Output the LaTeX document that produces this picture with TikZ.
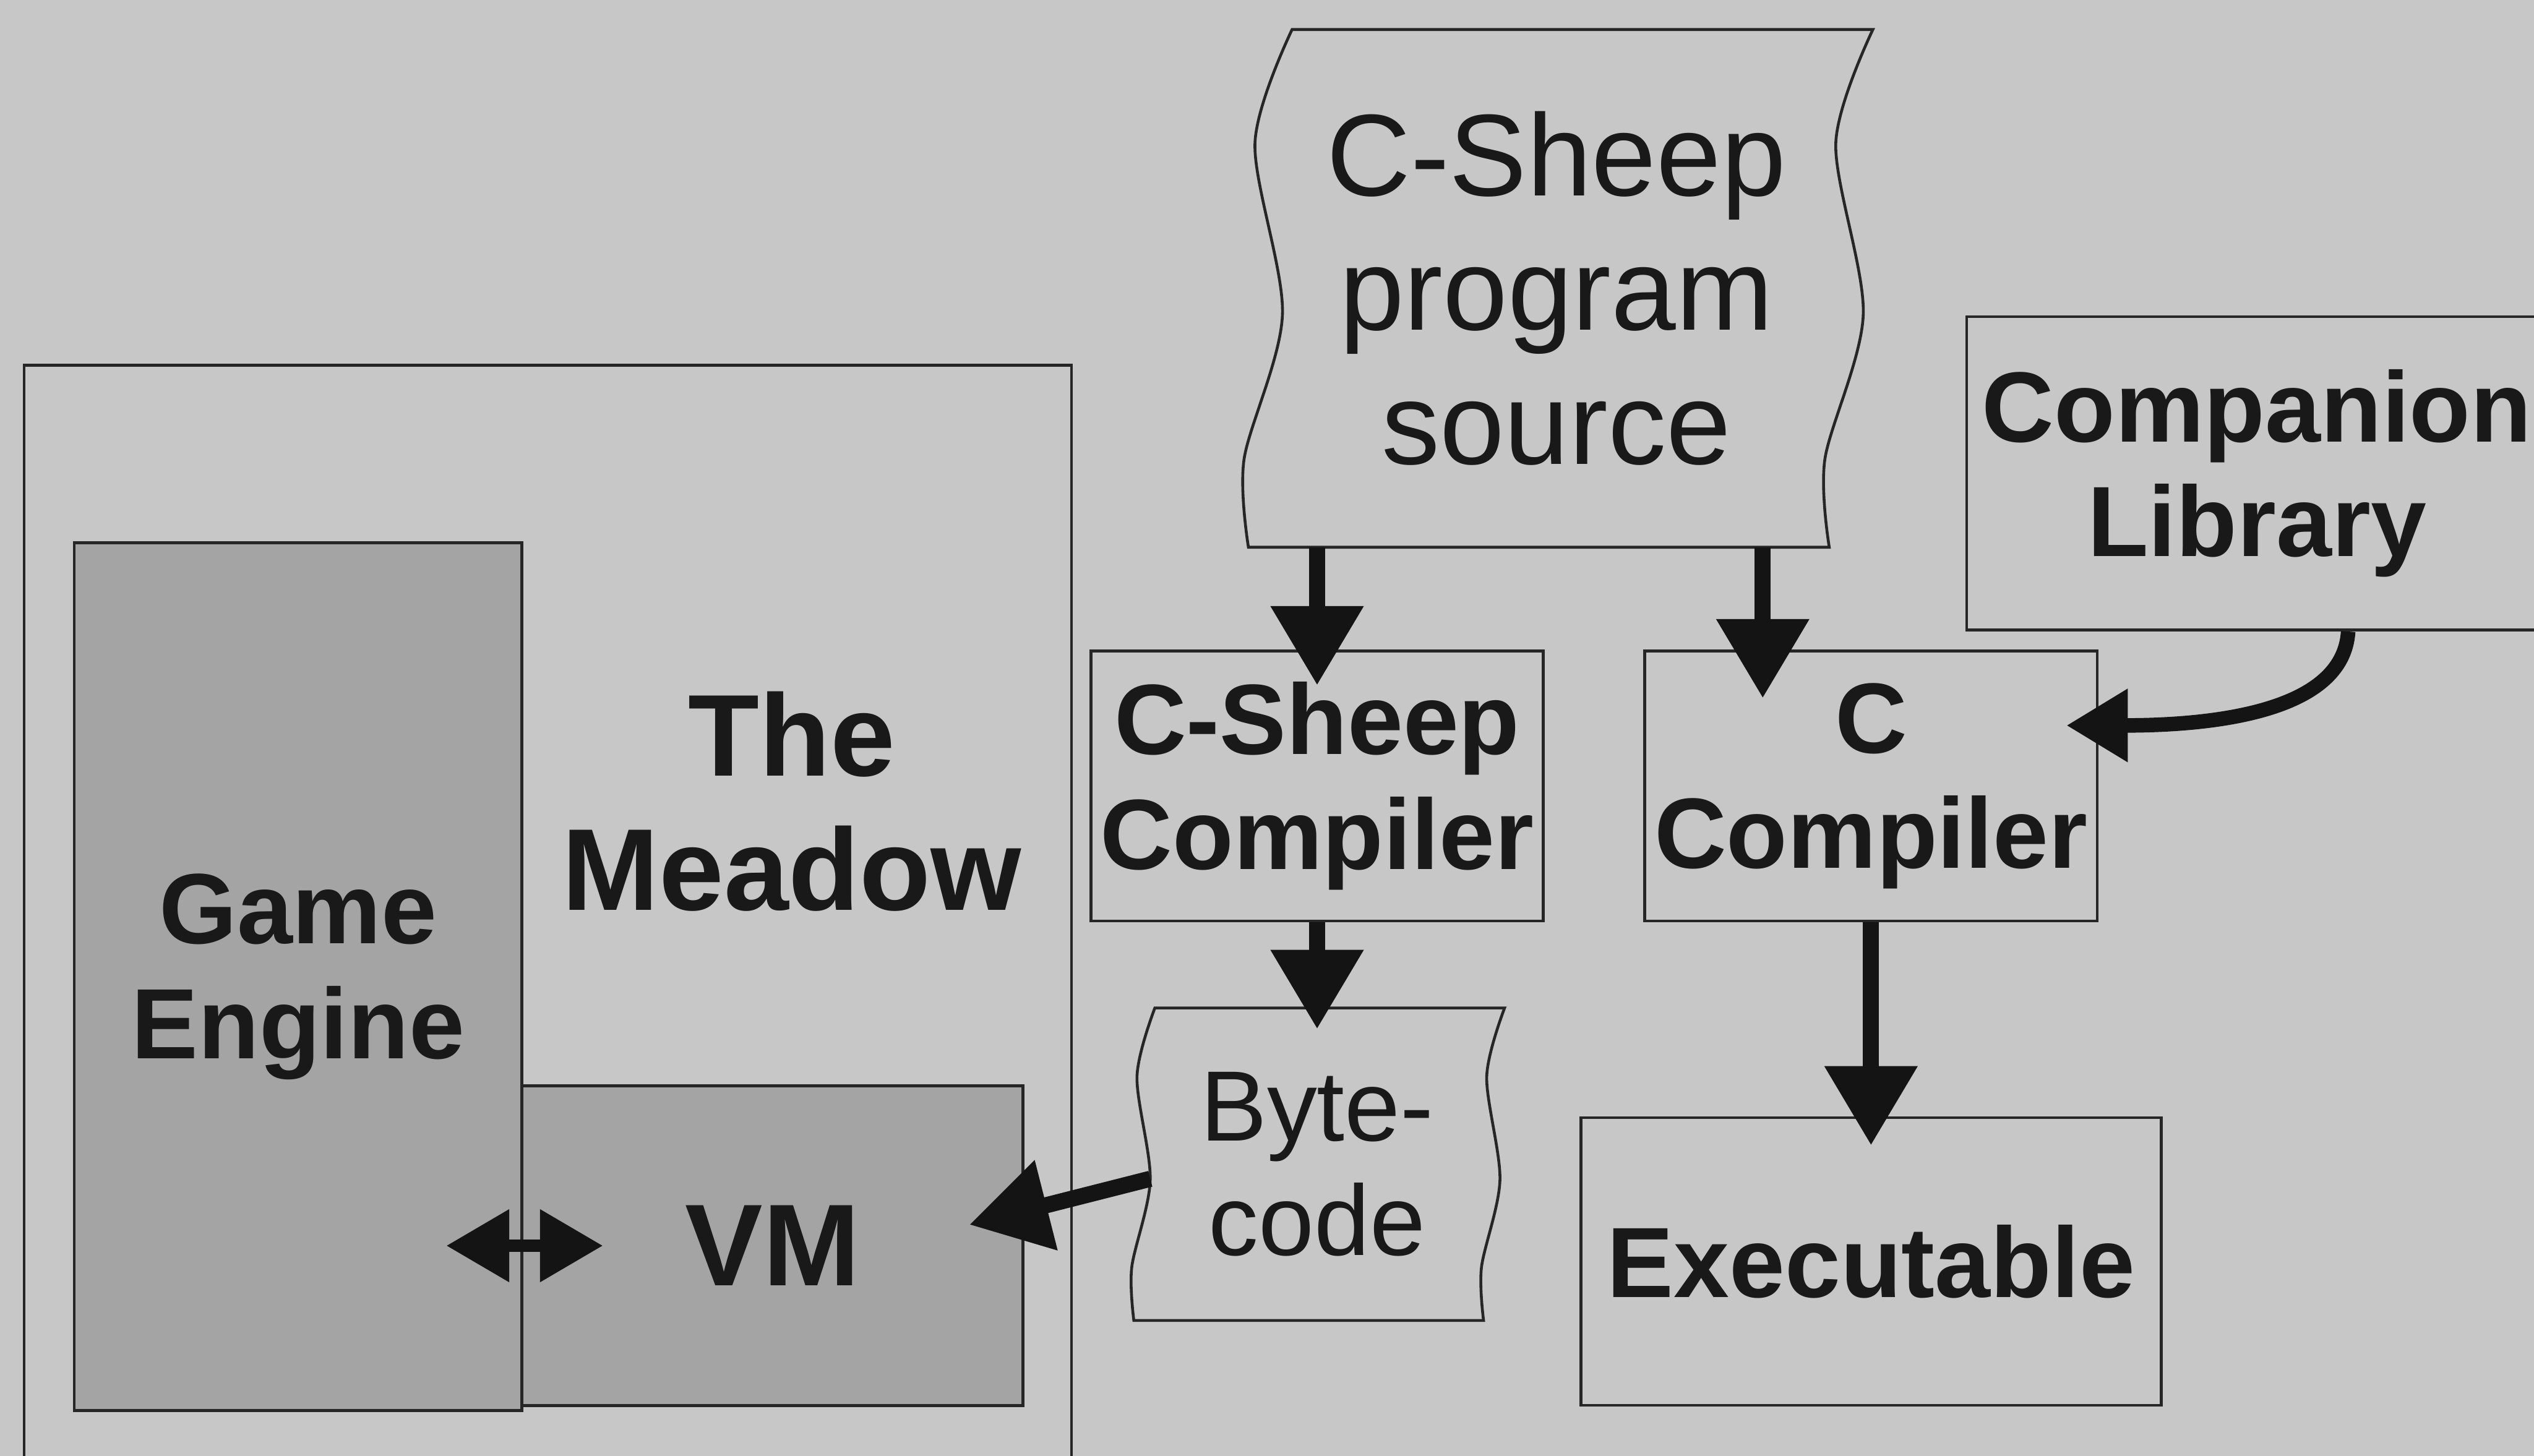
\documentclass[tikz,border=0pt]{standalone}
\usepackage{fontspec}
\setmainfont{Liberation Sans}
\usetikzlibrary{
	positioning,
	arrows.meta,
	calc}
\definecolor{paper}{RGB}{199,199,199}
\definecolor{slate}{RGB}{164,164,164}
\definecolor{ink}{RGB}{38,38,38}
\newcommand\bigtext{\fontsize{20.5}{23.6}\selectfont}
\newcommand\midtext{\fontsize{17.6}{20.2}\selectfont}
\newcommand\tape[2]{%
	\draw[tape line]
		plot[smooth] coordinates {
			($(#1.north west)+(0.6*#2,0)$)
			($(#1.north west)!.22!(#1.south west)+(-0.25*#2,0)$)
			($(#1.north west)!.55!(#1.south west)+(0.38*#2,0)$)
			($(#1.north west)!.83!(#1.south west)+(-0.5*#2,0)$)
			($(#1.south west)+(-0.4*#2,0)$)}
		-- plot[smooth] coordinates {
			($(#1.south east)+(-0.4*#2,0)$)
			($(#1.north east)!.83!(#1.south east)+(-0.5*#2,0)$)
			($(#1.north east)!.55!(#1.south east)+(0.38*#2,0)$)
			($(#1.north east)!.22!(#1.south east)+(-0.25*#2,0)$)
			($(#1.north east)+(0.6*#2,0)$)}
		-- cycle;}
\tikzset{
	meadow diagram/.style={
		x=.1mm, y=.1mm,
		text=black!90
		},
	box/.style={
		draw=ink,
		line width=.5pt,
		inner sep=0pt,
		align=center,
		font=\midtext\bfseries
	},
	engine box/.style={
		box,
		fill=slate
	},
	tape/.style={
		inner sep=0pt,
		align=center,
		font=\bigtext
	},
	tape line/.style={
		draw=ink,
		line width=.5pt
	},
	flow/.style={
		-{Triangle[length=4.9mm, width=5.5mm]},
		line width=1mm,
		draw=black!92
	},
	feed/.style={
		-{Triangle[length=3.8mm, width=4.3mm]},
		line width=.9mm,
		draw=black!92
	},
	both ways/.style={
		{Triangle[length=3.9mm, width=4.3mm]}-{Triangle[length=3.9mm, width=4.3mm]},
		line width=.8mm,
		draw=black!92
	},
}

\begin{document}
\begin{tikzpicture}[meadow diagram]
	\useasboundingbox (0,0) rectangle (1568,-901);
	\clip (0,0) rectangle (1568,-901);
	\fill[paper] (0,0) rectangle (1568,-901);
	\node[box, minimum width=64.8mm, minimum height=73.4mm] (meadow) at (339,-593) {};
	\node[engine box, minimum width=27.7mm, minimum height=53.7mm] (ge) at (184.5,-604.5) {Game\\Engine};
	\node[engine box, minimum width=31mm, minimum height=19.8mm, font=\bigtext\bfseries] (vm) at (478,-771) {VM};
	\node[font=\bigtext\bfseries, align=center, inner sep=0pt] (title) at (490,-496) {The\\Meadow};
	\node[tape, minimum width=35.8mm, minimum height=31.9mm] (src) at (963,-178.5) {C-Sheep\\program\\source};
	\tape{src}{27}
	\node[box, minimum width=28mm, minimum height=16.7mm] (cshc) at (815,-486.5) {C-Sheep\\Compiler};
	\node[box, minimum width=28mm, minimum height=16.7mm, right=6.1mm of cshc] (cc) {C\\Compiler};
	\node[box, minimum width=35.9mm, minimum height=19.4mm] (lib) at (1396.5,-293) {Companion\\Library};
	\node[box, minimum width=35.9mm, minimum height=17.8mm, below=12mm of cc] (exe) {Executable};
	\node[tape, font=\midtext, minimum width=21.5mm, minimum height=19.2mm, below=5.3mm of cshc] (byte) {Byte-\\code};
	\tape{byte}{13}
	\coordinate (ccin) at ([xshift=-6.7mm]cc.north);
	\coordinate (libout) at ([xshift=5.65mm]lib.south);
	\coordinate (ccside) at ([xshift=-2mm, yshift=3.75mm]cc.east);
	\coordinate (vmin) at ([xshift=-3.4mm, yshift=1.3mm]vm.east);
	\draw[flow] (src.south -| cshc.north) -- ([yshift=-2.2mm]cshc.north);
	\draw[flow] (src.south -| ccin) -- ([yshift=-3mm]ccin);
	\draw[flow] (cshc.south) -- ([yshift=-1.3mm]byte.north);
	\draw[flow] (cc.south) -- ([yshift=-1.8mm]exe.north);
	\draw[feed] (libout) .. controls +(-3,-50) and +(90,0) .. (ccside);
	\draw[flow] ([xshift=.5mm, yshift=-.9mm]byte.west) -- (vmin);
	\draw[both ways] ([xshift=-4.6mm]vm.west) -- ([xshift=5.1mm]vm.west);
\end{tikzpicture}
\end{document}
